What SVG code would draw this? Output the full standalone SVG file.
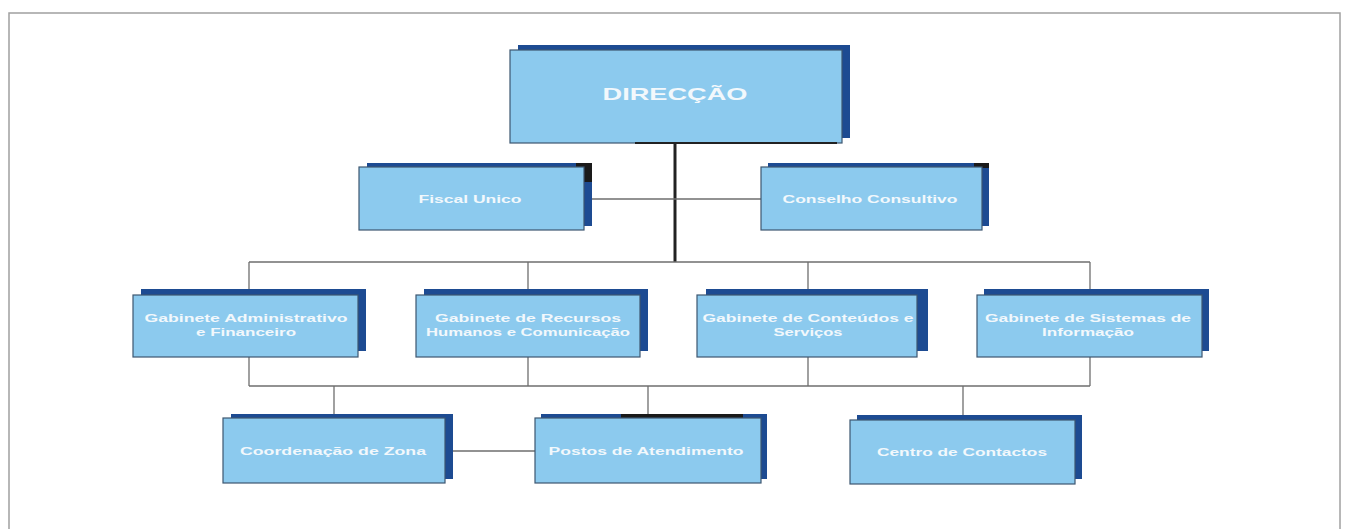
<svg xmlns="http://www.w3.org/2000/svg" width="1346" height="529" viewBox="0 0 1346 529">
<style>
.back{fill:#1d4b92;}
.front{fill:#8ccaee;stroke:#3d5670;stroke-width:1.2;}
.lbl{font-family:"Liberation Sans",Arial,sans-serif;font-weight:bold;font-size:10px;fill:#f2f8fc;text-anchor:middle;}
.big{font-size:17px;}
.c{stroke:#6e6e6e;stroke-width:1.3;fill:none;}
.main{stroke:#222;stroke-width:3;fill:none;}
</style>
<rect x="0" y="0" width="1346" height="529" fill="#ffffff"/>
<rect x="9" y="13" width="1331" height="540" fill="none" stroke="#a0a0a0" stroke-width="1.5"/>
<g id="connectors">
<line class="main" x1="675" y1="143" x2="675" y2="262"/>
<line class="c" x1="584" y1="199" x2="761" y2="199"/>
<line class="c" x1="249" y1="262" x2="1090" y2="262"/>
<line class="c" x1="249" y1="262" x2="249" y2="289"/>
<line class="c" x1="528" y1="262" x2="528" y2="289"/>
<line class="c" x1="808" y1="262" x2="808" y2="289"/>
<line class="c" x1="1090" y1="262" x2="1090" y2="289"/>
<line class="c" x1="249" y1="357" x2="249" y2="386"/>
<line class="c" x1="528" y1="357" x2="528" y2="386"/>
<line class="c" x1="808" y1="357" x2="808" y2="386"/>
<line class="c" x1="1090" y1="357" x2="1090" y2="386"/>
<line class="c" x1="249" y1="386" x2="1090" y2="386"/>
<line class="c" x1="334" y1="386" x2="334" y2="414"/>
<line class="c" x1="648" y1="386" x2="648" y2="414"/>
<line class="c" x1="963" y1="386" x2="963" y2="415"/>
<line class="c" x1="445" y1="451" x2="535" y2="451"/>
</g>
<g id="direccao">
<rect class="back" x="518" y="45" width="332" height="93"/>
<rect class="front" x="510" y="50" width="332" height="93"/>
<line x1="635" y1="143" x2="837" y2="143" stroke="#222" stroke-width="2"/>
<text class="lbl big" x="675" y="100" textLength="145" lengthAdjust="spacingAndGlyphs">DIRECÇÃO</text>
</g>
<g id="fiscal-unico">
<rect class="back" x="367" y="163" width="225" height="63"/>
<rect x="576" y="163" width="16" height="19" fill="#1a1a1a"/>
<rect class="front" x="359" y="167" width="225" height="63"/>
<text class="lbl" x="470" y="203" textLength="103" lengthAdjust="spacingAndGlyphs">Fiscal Unico</text>
</g>
<g id="conselho-consultivo">
<rect class="back" x="768" y="163" width="221" height="63"/>
<rect x="974" y="163" width="15" height="5" fill="#1a1a1a"/>
<rect class="front" x="761" y="167" width="221" height="63"/>
<text class="lbl" x="870" y="203" textLength="175" lengthAdjust="spacingAndGlyphs">Conselho Consultivo</text>
</g>
<g id="gab-admin">
<rect class="back" x="141" y="289" width="225" height="62"/>
<rect class="front" x="133" y="295" width="225" height="62"/>
<text class="lbl" x="246" y="322" textLength="203" lengthAdjust="spacingAndGlyphs">Gabinete Administrativo</text>
<text class="lbl" x="246" y="336" textLength="100" lengthAdjust="spacingAndGlyphs">e Financeiro</text>
</g>
<g id="gab-rh">
<rect class="back" x="424" y="289" width="224" height="62"/>
<rect class="front" x="416" y="295" width="224" height="62"/>
<text class="lbl" x="528" y="322" textLength="186" lengthAdjust="spacingAndGlyphs">Gabinete de Recursos</text>
<text class="lbl" x="528" y="336" textLength="204" lengthAdjust="spacingAndGlyphs">Humanos e Comunicação</text>
</g>
<g id="gab-conteudos">
<rect class="back" x="706" y="289" width="222" height="62"/>
<rect class="front" x="697" y="295" width="220" height="62"/>
<text class="lbl" x="808" y="322" textLength="211" lengthAdjust="spacingAndGlyphs">Gabinete de Conteúdos e</text>
<text class="lbl" x="808" y="336" textLength="69" lengthAdjust="spacingAndGlyphs">Serviços</text>
</g>
<g id="gab-sistemas">
<rect class="back" x="984" y="289" width="225" height="62"/>
<rect class="front" x="977" y="295" width="225" height="62"/>
<text class="lbl" x="1088" y="322" textLength="206" lengthAdjust="spacingAndGlyphs">Gabinete de Sistemas de</text>
<text class="lbl" x="1088" y="336" textLength="92" lengthAdjust="spacingAndGlyphs">Informação</text>
</g>
<g id="coordenacao-zona">
<rect class="back" x="231" y="414" width="222" height="65"/>
<rect class="front" x="223" y="418" width="222" height="65"/>
<text class="lbl" x="333" y="455" textLength="186" lengthAdjust="spacingAndGlyphs">Coordenação de Zona</text>
</g>
<g id="postos-atendimento">
<rect class="back" x="541" y="414" width="226" height="65"/>
<rect x="621" y="414" width="122" height="4" fill="#1a1a1a"/>
<rect class="front" x="535" y="418" width="226" height="65"/>
<text class="lbl" x="646" y="455" textLength="195" lengthAdjust="spacingAndGlyphs">Postos de Atendimento</text>
</g>
<g id="centro-contactos">
<rect class="back" x="857" y="415" width="225" height="64"/>
<rect class="front" x="850" y="420" width="225" height="64"/>
<text class="lbl" x="962" y="456" textLength="170" lengthAdjust="spacingAndGlyphs">Centro de Contactos</text>
</g>
</svg>
